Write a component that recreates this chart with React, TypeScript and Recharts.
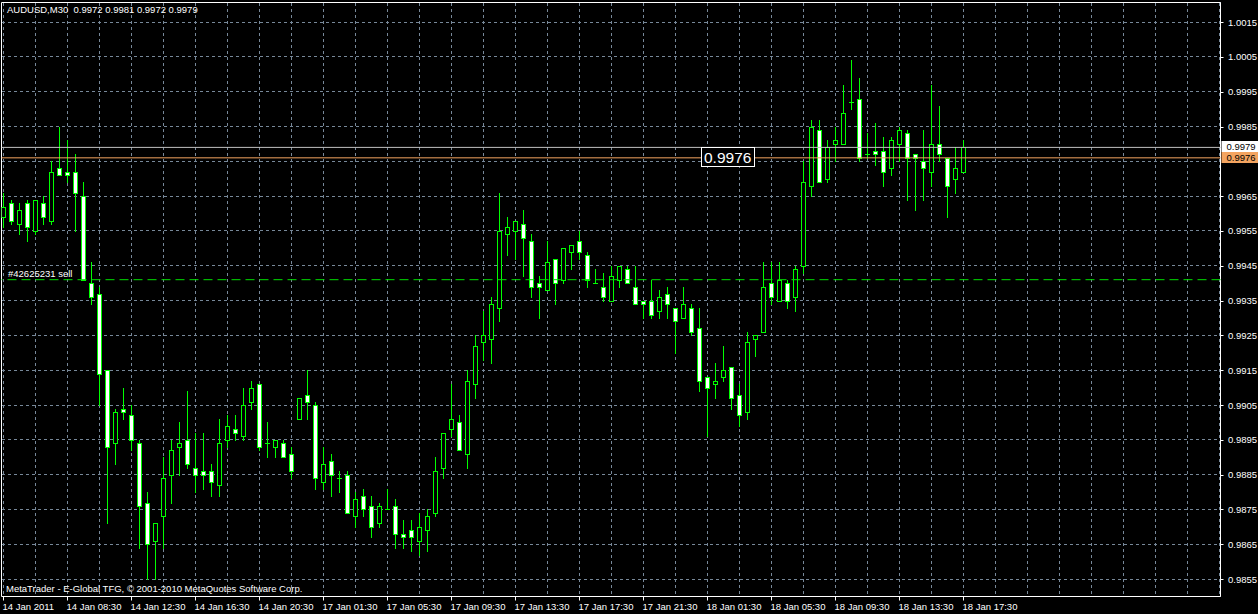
import React from 'react'
import {
  ComposedChart, Bar, XAxis, YAxis, CartesianGrid,
  ReferenceLine, ReferenceDot, ReferenceArea,
} from 'recharts'

// AUDUSD M30, 14 Jan 04:30 .. 18 Jan 17:30, one entry per bar
const OPEN = [
  0.9959, 0.9963, 0.9957, 0.9963, 0.9955, 0.9963, 0.9958, 0.9973, 0.9972, 0.9972,
  0.9965, 0.9940, 0.9937, 0.9915, 0.9894, 0.9904, 0.9902, 0.9894, 0.9877, 0.9866,
  0.9873, 0.9885, 0.9893, 0.9895, 0.9887, 0.9886, 0.9886, 0.9882, 0.9895, 0.9898,
  0.9896, 0.9906, 0.9911, 0.9894, 0.9893, 0.9894, 0.9891, 0.9901, 0.9908, 0.9905,
  0.9883, 0.9889, 0.9884, 0.9885, 0.9873, 0.9879, 0.9876, 0.9871, 0.9875, 0.9876,
  0.9868, 0.9869, 0.9866, 0.9869, 0.9874, 0.9887, 0.9898, 0.9900, 0.9891, 0.9911,
  0.9923, 0.9924, 0.9933, 0.9954, 0.9955, 0.9957, 0.9952, 0.9940, 0.9938, 0.9947,
  0.9941, 0.9949, 0.9952, 0.9948, 0.9940, 0.9939, 0.9935, 0.9941, 0.9944, 0.9939,
  0.9935, 0.9935, 0.9932, 0.9937, 0.9933, 0.9930, 0.9933, 0.9927, 0.9913, 0.9911,
  0.9913, 0.9916, 0.9908, 0.9903, 0.9924, 0.9926, 0.9940, 0.9935, 0.9940, 0.9936,
  0.9945, 0.9968, 0.9984, 0.9970, 0.9980, 0.9980, 0.9992, 0.9993, 0.9977, 0.9978,
  0.9978, 0.9973, 0.9980, 0.9983, 0.9977, 0.9975, 0.9972, 0.9980, 0.9976, 0.9970,
  0.9972,
]
const HIGH = [
  0.9966, 0.9964, 0.9963, 0.9964, 0.9964, 0.9965, 0.9975, 0.9985, 0.9981, 0.9977,
  0.9969, 0.9946, 0.9939, 0.9915, 0.9904, 0.9910, 0.9905, 0.9895, 0.9880, 0.9871,
  0.9890, 0.9895, 0.9900, 0.9909, 0.9897, 0.9897, 0.9888, 0.9901, 0.9902, 0.9902,
  0.9910, 0.9912, 0.9911, 0.9900, 0.9895, 0.9895, 0.9893, 0.9907, 0.9915, 0.9906,
  0.9893, 0.9891, 0.9886, 0.9886, 0.9880, 0.9881, 0.9879, 0.9877, 0.9881, 0.9878,
  0.9872, 0.9872, 0.9874, 0.9875, 0.9890, 0.9897, 0.9911, 0.9902, 0.9915, 0.9925,
  0.9932, 0.9936, 0.9966, 0.9959, 0.9958, 0.9961, 0.9954, 0.9942, 0.9952, 0.9947,
  0.9950, 0.9951, 0.9955, 0.9949, 0.9944, 0.9943, 0.9945, 0.9945, 0.9945, 0.9945,
  0.9935, 0.9941, 0.9938, 0.9939, 0.9933, 0.9939, 0.9934, 0.9933, 0.9913, 0.9917,
  0.9922, 0.9916, 0.9911, 0.9926, 0.9925, 0.9946, 0.9946, 0.9946, 0.9941, 0.9945,
  0.9975, 0.9987, 0.9987, 0.9981, 0.9985, 0.9997, 1.0004, 0.9999, 0.9983, 0.9986,
  0.9982, 0.9982, 0.9985, 0.9984, 0.9977, 0.9984, 0.9997, 0.9991, 0.9976, 0.9979,
  0.9981,
]
const LOW = [
  0.9956, 0.9957, 0.9954, 0.9952, 0.9954, 0.9957, 0.9957, 0.9971, 0.9969, 0.9955,
  0.9941, 0.9934, 0.9905, 0.9871, 0.9888, 0.9901, 0.9892, 0.9864, 0.9855, 0.9855,
  0.9864, 0.9877, 0.9885, 0.9887, 0.9880, 0.9881, 0.9879, 0.9879, 0.9893, 0.9895,
  0.9895, 0.9904, 0.9892, 0.9890, 0.9890, 0.9890, 0.9884, 0.9901, 0.9901, 0.9881,
  0.9881, 0.9879, 0.9880, 0.9874, 0.9870, 0.9873, 0.9867, 0.9870, 0.9875, 0.9864,
  0.9864, 0.9863, 0.9862, 0.9863, 0.9873, 0.9884, 0.9896, 0.9892, 0.9887, 0.9907,
  0.9918, 0.9917, 0.9929, 0.9948, 0.9947, 0.9942, 0.9936, 0.9930, 0.9938, 0.9934,
  0.9940, 0.9944, 0.9947, 0.9939, 0.9940, 0.9935, 0.9935, 0.9939, 0.9940, 0.9934,
  0.9930, 0.9930, 0.9930, 0.9930, 0.9920, 0.9930, 0.9925, 0.9909, 0.9896, 0.9907,
  0.9912, 0.9904, 0.9899, 0.9901, 0.9919, 0.9926, 0.9934, 0.9935, 0.9933, 0.9932,
  0.9943, 0.9965, 0.9969, 0.9969, 0.9975, 0.9980, 0.9990, 0.9975, 0.9976, 0.9974,
  0.9968, 0.9971, 0.9975, 0.9964, 0.9961, 0.9964, 0.9968, 0.9975, 0.9959, 0.9966,
  0.9972,
]
const CLOSE = [
  0.9962, 0.9958, 0.9961, 0.9956, 0.9964, 0.9959, 0.9972, 0.9971, 0.9971, 0.9966,
  0.9941, 0.9936, 0.9914, 0.9893, 0.9903, 0.9903, 0.9895, 0.9876, 0.9865, 0.9871,
  0.9884, 0.9892, 0.9894, 0.9888, 0.9885, 0.9885, 0.9883, 0.9894, 0.9899, 0.9897,
  0.9905, 0.9910, 0.9893, 0.9894, 0.9895, 0.9890, 0.9886, 0.9907, 0.9906, 0.9884,
  0.9888, 0.9885, 0.9884, 0.9874, 0.9878, 0.9875, 0.9870, 0.9876, 0.9875, 0.9868,
  0.9867, 0.9867, 0.9870, 0.9873, 0.9886, 0.9897, 0.9901, 0.9892, 0.9912, 0.9922,
  0.9925, 0.9934, 0.9955, 0.9956, 0.9958, 0.9953, 0.9939, 0.9939, 0.9946, 0.9940,
  0.9950, 0.9951, 0.9949, 0.9941, 0.9940, 0.9936, 0.9942, 0.9945, 0.9940, 0.9934,
  0.9934, 0.9931, 0.9936, 0.9934, 0.9929, 0.9934, 0.9926, 0.9912, 0.9910, 0.9912,
  0.9915, 0.9907, 0.9902, 0.9923, 0.9925, 0.9939, 0.9936, 0.9941, 0.9935, 0.9944,
  0.9969, 0.9985, 0.9969, 0.9979, 0.9981, 0.9989, 0.9992, 0.9976, 0.9977, 0.9977,
  0.9972, 0.9981, 0.9984, 0.9976, 0.9976, 0.9973, 0.9980, 0.9977, 0.9968, 0.9973,
  0.9979,
]

const TIME_LABELS = [
  '14 Jan 2011', '14 Jan 08:30', '14 Jan 12:30', '14 Jan 16:30', '14 Jan 20:30',
  '17 Jan 01:30', '17 Jan 05:30', '17 Jan 09:30', '17 Jan 13:30', '17 Jan 17:30',
  '17 Jan 21:30', '18 Jan 01:30', '18 Jan 05:30', '18 Jan 09:30', '18 Jan 13:30',
  '18 Jan 17:30',
]
const PRICE_TICKS = [
  0.9855, 0.9865, 0.9875, 0.9885, 0.9895, 0.9905, 0.9915, 0.9925, 0.9935,
  0.9945, 0.9955, 0.9965, 0.9975, 0.9985, 0.9995, 1.0005, 1.0015,
]
const HIDDEN_PRICE = 0.9975 // covered by the bid / level tags

const SYMBOL = 'AUDUSD,M30'
const BID = 0.9979
const LEVEL = 0.9976
const ORDER_PRICE = 0.9941
const ORDER_LABEL = '#42625231 sell'
const NOTE = { text: '0.9976', bar: 87.2, price: 0.9979 }
const COPYRIGHT = 'MetaTrader - E-Global TFG, \u00a9 2001-2010 MetaQuotes Software Corp.'

const BARS_PER_LABEL = 8
const BARS_PER_GRID = 4
const X_DOMAIN: [number, number] = [-0.25, 152.125]
const Y_DOMAIN: [number, number] = [0.9850012, 1.0020614]

const GREEN = '#00ff00'
const GRID = '#778899'
const FONT = '"Liberation Sans", Arial, sans-serif'

const data = OPEN.map((open, i) => ({
  i, open, high: HIGH[i], low: LOW[i], close: CLOSE[i], range: [LOW[i], HIGH[i]],
}))
const gridTicks = Array.from({ length: Math.floor(X_DOMAIN[1] / BARS_PER_GRID) + 1 }, (_, k) => k * BARS_PER_GRID)
const last = data[data.length - 1]
const fmt = (v: number) => v.toFixed(4)

function Candle(props: any) {
  const { x, y, width, height, payload } = props
  if (x == null || !payload) return null
  const top = Math.min(y, y + height)
  const h = Math.abs(height)
  const { open, high, low, close } = payload
  const span = high - low
  const py = (v: number) => (span > 0 ? top + ((high - v) / span) * h : top)
  const cx = Math.floor(x + width / 2) + 0.5
  const bTop = Math.round(py(Math.max(open, close))) + 0.5
  const bBot = Math.round(py(Math.min(open, close))) + 0.5
  return (
    <g>
      <line x1={cx} x2={cx} y1={Math.round(top)} y2={Math.round(top + h) + 1} stroke={GREEN} />
      {bBot - bTop < 1 ? (
        <line x1={cx - 2.5} x2={cx + 2.5} y1={bTop} y2={bTop} stroke={GREEN} />
      ) : (
        <rect x={cx - 2} y={bTop} width={4} height={bBot - bTop}
          fill={close < open ? '#ffffff' : '#000000'} stroke={GREEN} />
      )}
    </g>
  )
}

function TimeTick(props: any) {
  const { x, y, payload } = props
  const k = payload.value / BARS_PER_LABEL
  const label = Number.isInteger(k) ? TIME_LABELS[k] : undefined
  if (!label) return null
  const px = Math.floor(x) + 0.5
  return (
    <g>
      <line x1={px} x2={px} y1={y} y2={y + 4} stroke="#ffffff" />
      <text x={px - 1} y={y + 13} fill="#ffffff" fontSize={9.5} fontFamily={FONT}>{label}</text>
    </g>
  )
}

function PriceTick(props: any) {
  const { x, y, payload } = props
  if (Math.abs(payload.value - HIDDEN_PRICE) < 1e-6) return null
  return (
    <g>
      <line x1={x} x2={x + 3} y1={Math.round(y) + 0.5} y2={Math.round(y) + 0.5} stroke="#ffffff" />
      <text x={x + 7.5} y={y + 3.5} fill="#ffffff" fontSize={9.5} fontFamily={FONT}>{fmt(payload.value)}</text>
    </g>
  )
}

function PriceTag({ viewBox, text, bg }: any) {
  if (!viewBox) return null
  const left = viewBox.x + viewBox.width + 1
  const top = Math.round(viewBox.y) - 6
  return (
    <g>
      <rect x={left} y={top} width={37} height={11} fill={bg} />
      <text x={left + 5} y={top + 9} fill="#000000" fontSize={9.5} fontFamily={FONT}>{text}</text>
    </g>
  )
}

function OrderLabel({ viewBox }: any) {
  if (!viewBox) return null
  return (
    <text x={viewBox.x + 6.5} y={viewBox.y - 3} fill="#ffffff" fontSize={9.5} fontFamily={FONT}>
      {ORDER_LABEL}
    </text>
  )
}

function NoteBox(props: any) {
  const { cx, cy } = props
  const x = Math.round(cx) + 0.5
  const y = Math.round(cy) + 0.5
  return (
    <g>
      <rect x={x} y={y} width={53} height={19} fill="#000000" stroke="#ffffff" />
      <text x={x + 2.5} y={y + 15} fill="#ffffff" fontSize={15.5} fontFamily={FONT}>{NOTE.text}</text>
    </g>
  )
}

export default function App() {
  return (
    <div style={{ position: 'absolute', left: 0, top: 0, width: 1258, height: 614, background: '#000000' }}>
      <style>{'.recharts-cartesian-grid line { shape-rendering: crispEdges; }'}</style>
      <ComposedChart
        width={1258}
        height={614}
        data={data}
        margin={{ top: 2.5, right: 0, bottom: 0, left: 1.5 }}
      >
        <CartesianGrid stroke={GRID} strokeDasharray="3 3" />
        <XAxis
          dataKey="i"
          type="number"
          domain={X_DOMAIN}
          allowDataOverflow
          ticks={gridTicks}
          interval={0}
          height={17.5}
          axisLine={false}
          tickLine={false}
          tickSize={0}
          tickMargin={0}
          tick={<TimeTick />}
        />
        <YAxis
          orientation="right"
          type="number"
          domain={Y_DOMAIN}
          allowDataOverflow
          ticks={PRICE_TICKS}
          interval={0}
          width={37.5}
          axisLine={false}
          tickLine={false}
          tickSize={0}
          tickMargin={0}
          tick={<PriceTick />}
        />
        <Bar dataKey="range" barSize={5} shape={<Candle />} isAnimationActive={false} />
        <ReferenceLine
          y={ORDER_PRICE}
          stroke="#00e000"
          strokeDasharray="9 5"
          label={<OrderLabel />}
        />
        <ReferenceLine y={BID} stroke="#c0c0c0" label={<PriceTag text={fmt(BID)} bg="#ffffff" />} />
        <ReferenceLine y={LEVEL} stroke="#f4a460" label={<PriceTag text={fmt(LEVEL)} bg="#f4a460" />} />
        <ReferenceDot x={NOTE.bar} y={NOTE.price} r={1} shape={<NoteBox />} />
        <ReferenceArea
          x1={X_DOMAIN[0]} x2={X_DOMAIN[1]} y1={Y_DOMAIN[0]} y2={Y_DOMAIN[1]}
          fill="none" fillOpacity={0} stroke="#ffffff" strokeOpacity={1}
        />
      </ComposedChart>
      <div style={{
        position: 'absolute', left: 7, top: 4, color: '#ffffff',
        fontFamily: FONT, fontSize: 9.5, whiteSpace: 'pre', lineHeight: '12px',
      }}>
        {`${SYMBOL}  ${fmt(last.open)} ${fmt(last.high)} ${fmt(last.low)} ${fmt(last.close)}`}
      </div>
      <div style={{
        position: 'absolute', left: 6, top: 583, color: '#ffffff',
        fontFamily: FONT, fontSize: 9.5, whiteSpace: 'pre', lineHeight: '12px',
      }}>
        {COPYRIGHT}
      </div>
    </div>
  )
}
